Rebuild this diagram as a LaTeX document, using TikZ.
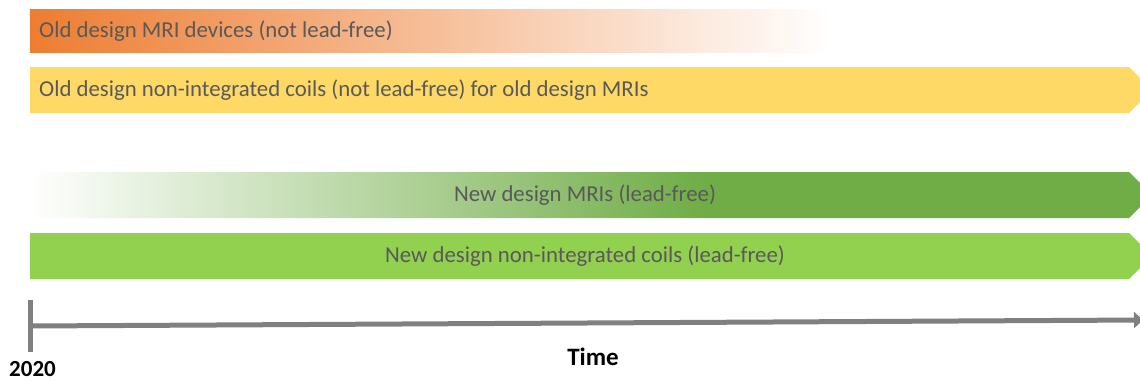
\documentclass[tikz,border=0pt]{standalone}
\usepackage{fontspec}
\setmainfont{Carlito}
\usetikzlibrary{arrows.meta}
\definecolor{txtgray}{HTML}{595959}
\definecolor{oldorange}{HTML}{ED7D31}
\definecolor{oldyellow}{HTML}{FFD966}
\definecolor{newdark}{HTML}{70AD47}
\definecolor{newlight}{HTML}{92D050}
\definecolor{axisgray}{HTML}{808080}
\pgfdeclarehorizontalshading{greenfade}{100bp}{color(0bp)=(white); color(25bp)=(white); color(55bp)=(newdark); color(100bp)=(newdark)}
\tikzset{
  bartext/.style={text=txtgray, font=\fontsize{22.8}{26}\selectfont, inner sep=0pt},
  axislabel/.style={text=black, inner sep=0pt},
}
\begin{document}
\begin{tikzpicture}[x=1pt,y=-1pt]
\useasboundingbox (0,0) rectangle (1140,380);
% bars
\shade[left color=oldorange, right color=white] (30,9) rectangle (830,52);
\fill[oldyellow] (30,67) -- (1129,67) -- (1152,90) -- (1129,113) -- (30,113) -- cycle;
\shade[shading=greenfade] (30,172) -- (1129,172) -- (1152,195) -- (1129,218) -- (30,218) -- cycle;
\fill[newlight] (30,233) -- (1129,233) -- (1152,256) -- (1129,279) -- (30,279) -- cycle;
% labels
\node[bartext, anchor=west] (old1) at (39,31) {Old design MRI devices (not lead-free)};
\node[bartext, anchor=west] (old2) at (39,90) {Old design non-integrated coils (not lead-free) for old design MRIs};
\node[bartext] (new1) at (585,195) {New design MRIs (lead-free)};
\node[bartext] (new2) at (585,256) {New design non-integrated coils (lead-free)};
% axis
\coordinate (tickT) at (30,300);
\coordinate (tickB) at (30,352);
\coordinate (axL) at (30,326);
\coordinate (axR) at (1143,320);
\draw[axisgray, line width=5pt] (tickT) -- (tickB);
\draw[axisgray, line width=5pt, -{Triangle[length=9pt,width=16pt]}] (axL) -- (axR);
\node[axislabel, anchor=base, font=\bfseries\fontsize{25}{28}\selectfont] (time) at (593,365) {Time};
\node[axislabel, anchor=base, font=\bfseries\fontsize{23}{26}\selectfont] (year) at (32.5,376.5) {2020};
\end{tikzpicture}
\end{document}
